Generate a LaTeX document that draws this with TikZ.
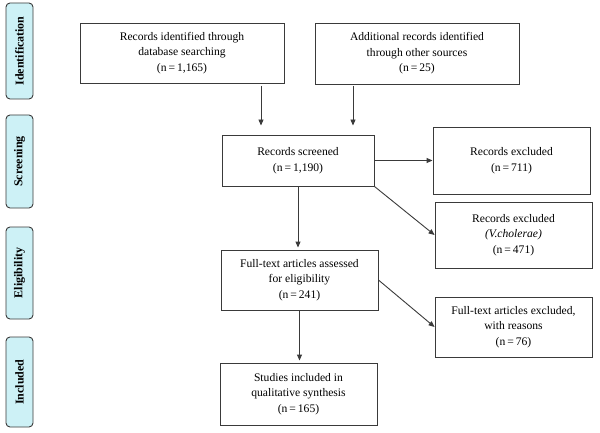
\documentclass[tikz,border=0pt]{standalone}
\usepackage{fontspec}
\setmainfont{Liberation Serif}
\usetikzlibrary{arrows.meta}
\definecolor{sidefill}{HTML}{CDF1F6}
\definecolor{lin}{HTML}{3A3A3A}
\begin{document}
\begin{tikzpicture}[x=1pt,y=-1pt,
  box/.style={draw=lin, line width=0.9pt, align=center, font=\fontsize{11.6}{15.5}\selectfont, inner sep=0pt},
  side/.style={draw=lin, fill=sidefill, line width=0.9pt, rounded corners=4pt},
  sidetext/.style={rotate=90, font=\bfseries\fontsize{12}{14}\selectfont},
  arr/.style={draw=lin, line width=0.9pt, -{Triangle[length=6pt,width=5pt]}}]
\useasboundingbox (0,0) rectangle (600,433);
% side labels
\node[side, minimum width=27pt, minimum height=96pt] (sid) at (19.5,51) {};
\node[sidetext] (tid) at (sid) {Identification};
\node[side, minimum width=27pt, minimum height=93pt] (ssc) at (19.5,161.5) {};
\node[sidetext] (tsc) at (ssc) {Screening};
\node[side, minimum width=27pt, minimum height=92pt] (sel) at (19.5,273) {};
\node[sidetext] (tel) at (sel) {Eligibility};
\node[side, minimum width=27pt, minimum height=90pt] (sin) at (19.5,382) {};
\node[sidetext] (tin) at (sin) {Included};
% boxes
\node[box, minimum width=204pt, minimum height=60pt] (db) at (182,53) {Records identified through\\database searching\\(n\,=\,1,165)};
\node[box, minimum width=204pt, minimum height=61pt] (oth) at (417,53.5) {Additional records identified\\through other sources\\(n\,=\,25)};
\node[box, minimum width=152pt, minimum height=51pt] (scr) at (298,160.5) {Records screened\\(n\,=\,1,190)};
\node[box, minimum width=157pt, minimum height=67pt] (ex1) at (511.5,160.5) {Records excluded\\(n\,=\,711)};
\node[box, minimum width=157pt, minimum height=66pt] (ex2) at (513.5,235) {Records excluded\\\textit{(V.cholerae)}\\(n\,=\,471)};
\node[box, minimum width=157pt, minimum height=60pt] (ft) at (299.5,280) {Full-text articles assessed\\for eligibility\\(n\,=\,241)};
\node[box, minimum width=157pt, minimum height=60pt] (ex3) at (513.5,327) {Full-text articles excluded,\\with reasons\\(n\,=\,76)};
\node[box, minimum width=157pt, minimum height=62pt] (inc) at (298.5,394) {Studies included in\\qualitative synthesis\\(n\,=\,165)};
% arrows
\coordinate (a1) at (261,86);
\coordinate (a2) at (353,86);
\draw[arr, shorten >=9pt] (a1) -- (a1 |- scr.north);
\draw[arr, shorten >=9pt] (a2) -- (a2 |- scr.north);
\draw[arr] (scr.east) -- (ex1.west |- scr.east);
\draw[arr] (scr.south east) -- (ex2.west);
\draw[arr, shorten >=2pt] (scr.south) -- (scr.south |- ft.north);
\draw[arr] (ft.east) -- (ex3.west);
\draw[arr, shorten >=2pt] (ft.south) -- (ft.south |- inc.north);
\end{tikzpicture}
\end{document}
